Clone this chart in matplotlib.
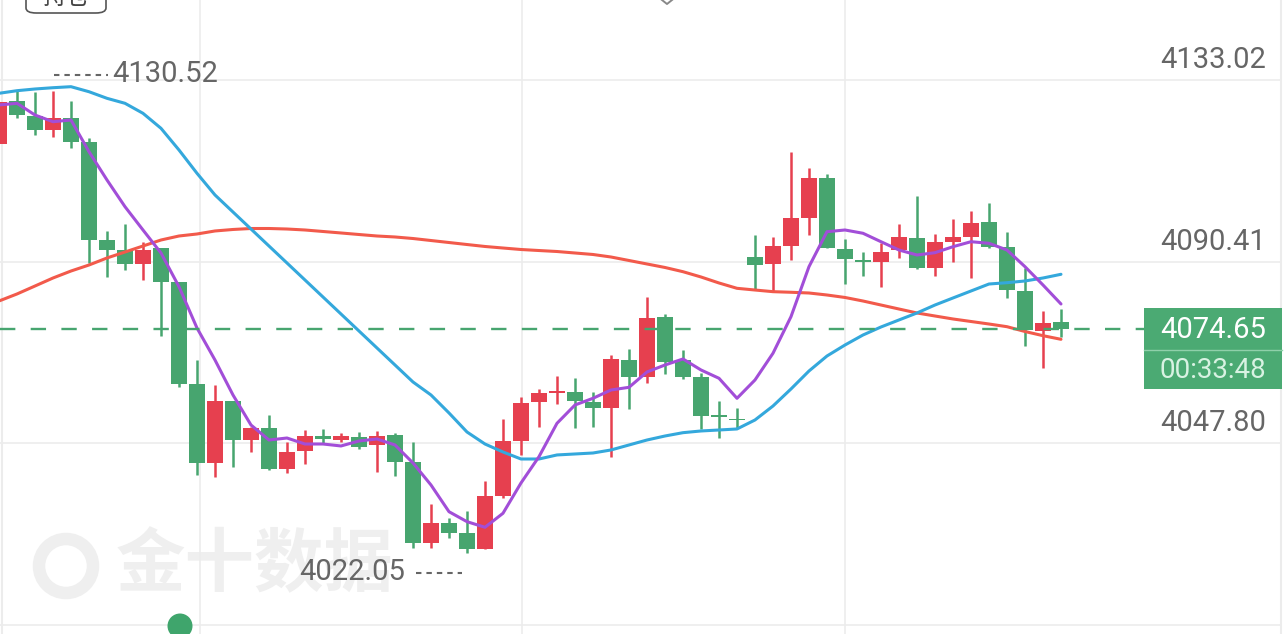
import matplotlib.pyplot as plt
from matplotlib.patches import Rectangle, FancyBboxPatch, Ellipse
from matplotlib.transforms import blended_transform_factory

# OHLC, one entry per candle (red = up, green = down)
opens = [4118.00, 4128.09, 4124.57, 4121.28, 4124.03, 4118.54, 4095.46, 4093.11, 4089.83, 4093.51,
         4085.53, 4061.66, 4043.19, 4057.74, 4048.51, 4051.26, 4041.63, 4046.00, 4049.45, 4048.51,
         4049.29, 4047.27, 4049.69, 4043.42, 4024.41, 4028.96, 4026.75, 4022.86, 4035.37, 4048.28,
         4057.50, 4059.62, 4059.71, 4057.50, 4056.10, 4067.29, 4063.37, 4077.46, 4067.29, 4063.23,
         4054.39, 4053.32, 4091.40, 4089.76, 4094.12, 4100.70, 4109.95, 4093.28, 4090.77, 4090.23,
         4093.11, 4095.86, 4088.82, 4095.06, 4096.24, 4099.76, 4093.89, 4083.49, 4074.17, 4076.28]
highs = [4128.33, 4130.52, 4130.27, 4130.44, 4128.16, 4119.33, 4097.58, 4099.22, 4095.06, 4093.58,
         4085.60, 4067.29, 4061.42, 4057.74, 4051.64, 4054.39, 4048.11, 4050.86, 4051.03, 4050.23,
         4050.32, 4050.70, 4050.09, 4048.11, 4033.49, 4030.13, 4031.85, 4038.89, 4053.37, 4058.54,
         4060.49, 4063.61, 4063.14, 4059.85, 4068.47, 4069.80, 4082.01, 4078.09, 4069.64, 4064.17,
         4057.74, 4056.10, 4096.64, 4096.24, 4116.05, 4112.29, 4110.89, 4095.70, 4092.71, 4094.69,
         4099.22, 4105.86, 4096.87, 4100.32, 4102.34, 4104.08, 4097.41, 4088.96, 4078.86, 4079.19]
lows = [4117.53, 4124.03, 4120.11, 4119.71, 4116.99, 4090.13, 4086.85, 4088.42, 4086.07, 4072.93,
        4060.95, 4040.30, 4039.90, 4042.17, 4045.77, 4041.47, 4040.70, 4042.88, 4047.57, 4048.11,
        4046.33, 4041.07, 4040.06, 4023.09, 4023.09, 4025.44, 4022.05, 4022.86, 4034.83, 4045.00,
        4051.64, 4056.97, 4051.26, 4051.64, 4044.45, 4055.79, 4061.82, 4064.01, 4062.76, 4051.03,
        4049.05, 4051.26, 4083.89, 4083.33, 4090.77, 4096.64, 4093.65, 4085.06, 4087.08, 4084.36,
        4091.17, 4088.58, 4087.08, 4090.37, 4086.47, 4093.65, 4081.78, 4070.58, 4065.34, 4072.76]
closes = [4127.93, 4124.80, 4121.28, 4124.03, 4118.54, 4095.46, 4093.11, 4089.83, 4093.11, 4085.67,
          4061.66, 4043.04, 4057.74, 4048.51, 4051.26, 4041.63, 4045.77, 4049.52, 4048.68, 4049.45,
          4046.94, 4049.45, 4043.42, 4024.41, 4028.96, 4026.75, 4022.86, 4035.37, 4048.28, 4057.27,
          4059.48, 4060.02, 4057.74, 4055.96, 4067.46, 4063.23, 4077.22, 4066.89, 4063.23, 4054.22,
          4053.84, 4053.09, 4089.59, 4094.05, 4100.56, 4109.95, 4093.65, 4091.00, 4090.30, 4092.71,
          4096.10, 4088.82, 4095.06, 4096.10, 4099.52, 4093.89, 4083.72, 4074.34, 4076.05, 4074.65]

# moving average lines
ma_purple = [4127.15, 4127.55, 4124.80, 4123.23, 4123.63, 4116.19, 4109.55, 4103.28, 4097.81, 4092.41,
             4084.50, 4074.80, 4067.29, 4059.08, 4052.03, 4048.51, 4048.98, 4047.57, 4047.57, 4047.11,
             4048.28, 4048.75, 4047.34, 4043.12, 4037.95, 4031.68, 4029.34, 4028.02, 4031.31, 4038.42,
             4044.60, 4052.43, 4056.73, 4058.30, 4060.25, 4060.88, 4064.48, 4066.12, 4067.53, 4064.95,
             4063.00, 4058.30, 4062.60, 4068.87, 4077.46, 4089.20, 4097.41, 4097.81, 4097.04, 4095.06,
             4093.11, 4091.94, 4092.48, 4093.89, 4095.06, 4094.69, 4093.11, 4089.20, 4084.90, 4080.44]
ma_blue = [4129.90, 4130.51, 4130.91, 4131.21, 4131.45, 4130.27, 4128.72, 4127.55, 4125.20, 4121.68,
           4116.59, 4111.12, 4106.03, 4102.03, 4098.04, 4094.05, 4090.06, 4086.07, 4082.08, 4078.09,
           4074.10, 4070.11, 4066.12, 4062.13, 4059.08, 4054.86, 4050.39, 4047.57, 4045.70, 4044.05,
           4044.05, 4045.00, 4045.23, 4045.46, 4046.17, 4047.34, 4048.51, 4049.45, 4050.23, 4050.63,
           4050.86, 4051.10, 4053.21, 4056.49, 4060.49, 4064.71, 4068.23, 4070.81, 4073.16, 4075.04,
           4076.69, 4078.33, 4080.20, 4081.85, 4083.49, 4085.13, 4085.44, 4085.84, 4086.54, 4087.41]
ma_red = [4081.14, 4082.79, 4084.66, 4086.54, 4088.18, 4089.59, 4091.24, 4092.64, 4094.05, 4095.46,
          4096.40, 4096.87, 4097.58, 4097.93, 4098.16, 4098.16, 4098.04, 4097.81, 4097.46, 4097.11,
          4096.75, 4096.40, 4096.17, 4095.81, 4095.34, 4094.87, 4094.40, 4093.94, 4093.58, 4093.23,
          4092.99, 4092.76, 4092.41, 4092.06, 4091.47, 4090.65, 4089.83, 4089.01, 4088.02, 4086.78,
          4085.37, 4084.12, 4083.72, 4083.33, 4083.19, 4083.02, 4082.55, 4081.97, 4081.14, 4080.20,
          4079.26, 4078.33, 4077.62, 4076.92, 4076.33, 4075.74, 4075.11, 4073.98, 4073.00, 4072.15]

grid_prices = [4133.02, 4090.41, 4047.80, 4005.19]
axis_labels = ["4133.02", "4090.41", "4047.80"]
last_price = 4074.65
last_label = "4074.65"
countdown = "00:33:48"
high_label = "4130.52"
low_label = "4022.05"
watermark = "金十数据"

UP = "#e6404f"
DOWN = "#47a56f"
TXT = "#666666"
GRID = "#ececec"
W, H = 1284, 634

fig = plt.figure(figsize=(W / 100, H / 100), dpi=100)
ax = fig.add_axes([0, 0, 1, 1])
ax.set_xlim(0.056, 71.39)
ax.set_ylim(4002.97, 4151.80)
ax.axis("off")

def fx(x):
    return x / W

def fy(y):
    return 1 - y / H

# watermark
ax.text(fx(116), fy(566), watermark, transform=ax.transAxes, fontsize=50, fontweight="bold",
        color="#efefef", va="center", ha="left", family=["Noto Sans CJK SC", "DejaVu Sans"], zorder=0)
ax.add_patch(Ellipse((fx(66), fy(566)), 54 / W, 54 / H, transform=ax.transAxes, fill=False,
                     lw=9, ec="#efefef", zorder=0))

# grid
ax.hlines(grid_prices, 0.056, 71.2, color=GRID, lw=1.2, zorder=1)
for gx in [11.17, 29.06, 47.0]:
    ax.axvline(gx, color=GRID, lw=1.2, zorder=1)
ax.axvline(0.17, color=GRID, lw=1.5, zorder=1)
ax.axvline(71.2, color=GRID, lw=1.5, zorder=1)

# candles
for i in range(len(opens)):
    o, h, l, c = opens[i], highs[i], lows[i], closes[i]
    col = UP if c > o else DOWN
    ax.vlines(i, l, h, color=col, lw=1.8, zorder=3)
    bottom = min(o, c)
    height = max(abs(c - o), 0.45)
    ax.add_patch(Rectangle((i - 0.42, bottom), 0.84, height, color=col, lw=0, zorder=3))

x = list(range(len(opens)))
ax.plot(x, ma_red, color="#f25a4b", lw=2.2, zorder=4, solid_capstyle="round")
ax.plot(x, ma_blue, color="#34a8dc", lw=2.2, zorder=4, solid_capstyle="round")
ax.plot(x, ma_purple, color="#a24ed8", lw=2.2, zorder=4, solid_capstyle="round")

# last price dashed line
ax.plot([0.056, 63.6], [last_price, last_price], color=DOWN, lw=1.7,
        linestyle=(0, (6.5, 6.5)), zorder=5)

# right axis labels
blend = blended_transform_factory(ax.transAxes, ax.transData)
for p, lab in zip(grid_prices, axis_labels):
    ax.annotate(lab, xy=(fx(1266), p), xycoords=blend, xytext=(0, 8.5), textcoords="offset points",
                ha="right", va="baseline", fontsize=21, color=TXT, family="Roboto")

# last price box
ax.add_patch(Rectangle((fx(1144), fy(389)), fx(138), 81 / H, transform=ax.transAxes,
                       color="#4baa73", lw=0, zorder=6))
ax.plot([fx(1144), fx(1282)], [fy(350), fy(350)], transform=ax.transAxes,
        color="#8fd0aa", lw=1, zorder=7)
ax.text(fx(1266), fy(330), last_label, transform=ax.transAxes, ha="right", va="center",
        fontsize=21, color="white", family="Roboto", zorder=8)
ax.text(fx(1266), fy(370), countdown, transform=ax.transAxes, ha="right", va="center",
        fontsize=20, color="#d8f2e2", family="Roboto", zorder=8)

# high / low markers
ax.plot([fx(54), fx(108)], [fy(75), fy(75)], transform=ax.transAxes, color=TXT, lw=1.5,
        linestyle=(0, (2.6, 2.4)), zorder=5)
ax.text(fx(112), fy(74), high_label, transform=ax.transAxes, ha="left", va="center",
        fontsize=21, color=TXT, family="Roboto", zorder=5)
ax.text(fx(299), fy(572), low_label, transform=ax.transAxes, ha="left", va="center",
        fontsize=21, color=TXT, family="Roboto", zorder=5)
ax.plot([fx(416), fx(462)], [fy(573), fy(573)], transform=ax.transAxes, color=TXT, lw=1.5,
        linestyle=(0, (2.6, 2.4)), zorder=5)

# top-left button, cut off by the top edge
ax.add_patch(FancyBboxPatch((fx(26), fy(13)), fx(80), 40 / H, transform=ax.transAxes,
                            boxstyle="round,pad=0,rounding_size=0.008", fc="white",
                            ec="#555555", lw=1.2, zorder=6))
ax.text(fx(66), fy(-2), "持仓", transform=ax.transAxes, ha="center", va="center", fontsize=17,
        color="#444444", family=["Noto Sans CJK SC", "DejaVu Sans"], zorder=7)
# chevron at top
ax.plot([fx(657), fx(667), fx(677)], [fy(-4), fy(4), fy(-4)], transform=ax.transAxes,
        color="#888888", lw=1.4, zorder=6)

# green dot at bottom
ax.add_patch(Ellipse((fx(180), fy(626)), 25 / W, 25 / H, transform=ax.transAxes,
                     color="#3fa56c", lw=0, zorder=6))

fig.savefig("out.png", dpi=100)
